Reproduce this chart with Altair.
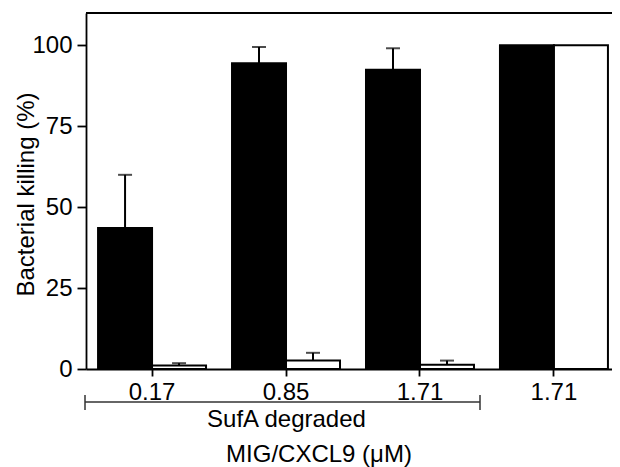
import altair as alt
import pandas as pd

# ---- data ----
groups = ["g1", "g2", "g3", "g4"]
group_labels = ["0.17", "0.85", "1.71", "1.71"]
series = ["filled", "open"]
filled_mean = [43.6, 94.5, 92.5, 100.0]
filled_err = [16.4, 5.0, 6.6, 0.0]
open_mean = [1.1, 2.6, 1.3, 100.0]
open_err = [0.7, 2.4, 1.3, 0.0]
bracket_text = ["SufA degraded"]
x_title = ["MIG/CXCL9 (μM)"]

rows = []
for i, g in enumerate(groups):
    rows.append({"group": g, "series": "filled", "mean": filled_mean[i],
                 "upper": filled_mean[i] + filled_err[i], "err": filled_err[i]})
    rows.append({"group": g, "series": "open", "mean": open_mean[i],
                 "upper": open_mean[i] + open_err[i], "err": open_err[i]})
df = pd.DataFrame(rows)
one = pd.DataFrame({"k": [0]})

FONT = "Liberation Sans"
W, H = 526, 356
XR = 534  # band range, extends to the window edge

label_expr = " : ".join(
    [f"datum.value == '{g}' ? '{l}'" for g, l in zip(groups[:-1], group_labels[:-1])]
) + f" : '{group_labels[-1]}'"

x_enc = alt.X("group:N", sort=groups,
              scale=alt.Scale(paddingInner=0.194, paddingOuter=0.09, range=[0, XR]),
              axis=alt.Axis(title=None, labelAngle=0, labelExpr=label_expr,
                            tickSize=7, labelPadding=4))
xoff = alt.XOffset("series:N", sort=series,
                   scale=alt.Scale(paddingInner=0, paddingOuter=0))
y_scale = alt.Scale(domain=[0, 110], nice=False, zero=True)

base = alt.Chart(df)

bars = base.mark_bar(stroke="black", strokeWidth=2).encode(
    x=x_enc,
    xOffset=xoff,
    y=alt.Y("mean:Q", scale=y_scale,
            axis=alt.Axis(values=[0, 25, 50, 75, 100], title="Bacterial killing (%)",
                          tickSize=9, labelPadding=5,
                          titleX=-53, titleY=181, titleBaseline="alphabetic",
                          titleAngle=270, titleFontSize=24, titleFontWeight="normal",
                          titleFont=FONT, titleColor="black")),
    fill=alt.Fill("series:N", scale=alt.Scale(domain=series, range=["black", "white"]),
                  legend=None),
)

err = base.transform_filter("datum.err > 0")
err_rule = err.mark_rule(color="black", strokeWidth=2).encode(
    x=x_enc, xOffset=xoff, y=alt.Y("mean:Q", scale=y_scale), y2="upper:Q")
err_cap = err.mark_tick(color="black", thickness=2, size=14).encode(
    x=x_enc, xOffset=xoff, y=alt.Y("upper:Q", scale=y_scale))

top_line = alt.Chart(one).mark_rule(color="black", strokeWidth=2).encode(
    x=alt.value(0), x2=alt.value(XR), y=alt.value(0))

# bracket under the first three groups
bx0, bx1, by = -1, 394, 389
bracket = alt.Chart(one).mark_rule(color="#333", strokeWidth=1.5).encode(
    x=alt.value(bx0), x2=alt.value(bx1), y=alt.value(by))
cap_l = alt.Chart(one).mark_rule(color="#333", strokeWidth=1.5).encode(
    x=alt.value(bx0), y=alt.value(by - 7), y2=alt.value(by + 8))
cap_r = alt.Chart(one).mark_rule(color="#333", strokeWidth=1.5).encode(
    x=alt.value(bx1), y=alt.value(by - 7), y2=alt.value(by + 8))

sufa = alt.Chart(one).mark_text(text=bracket_text[0], font=FONT, fontSize=24,
                                color="black", baseline="alphabetic", align="center").encode(
    x=alt.value(200.5), y=alt.value(414))
xtitle = alt.Chart(one).mark_text(text=x_title[0], font=FONT, fontSize=24,
                                  color="black", baseline="alphabetic", align="center").encode(
    x=alt.value(233), y=alt.value(449))

chart = alt.layer(bars, err_rule, err_cap, top_line, bracket, cap_l, cap_r, sufa, xtitle).properties(
    width=W, height=H,
    autosize=alt.AutoSizeParams(type="none"),
    padding={"left": 78, "top": 5, "right": 0, "bottom": 99},
    background="white",
).configure_view(stroke=None).configure_axis(
    domainColor="black", domainWidth=1.8, tickColor="black", tickWidth=1.8,
    labelColor="black", labelFont=FONT, labelFontSize=24, grid=False,
)

chart.save("out.html", embed_options={"renderer": "svg", "actions": False})
